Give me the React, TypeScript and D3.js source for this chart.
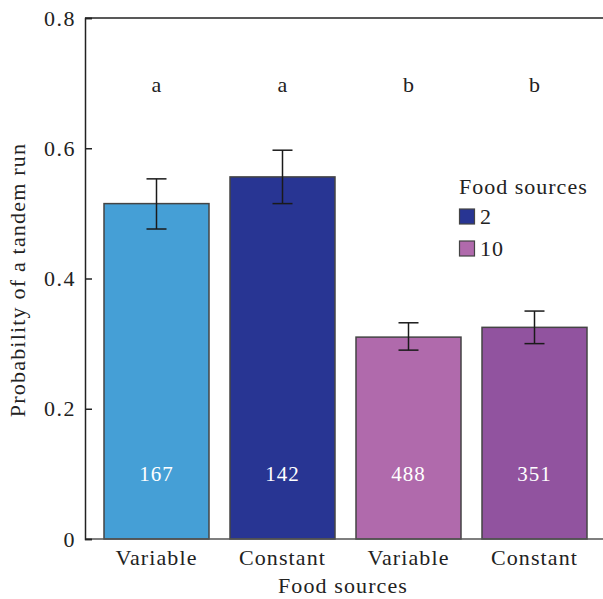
import React, { useEffect, useRef } from "react";
import * as d3 from "d3";

// values
const categories = ["Variable", "Constant", "Variable ", "Constant "];
const tickLabels = ["Variable", "Constant", "Variable", "Constant"];
const probs = [0.515, 0.556, 0.31, 0.325];
const errLow = [0.476, 0.515, 0.29, 0.3];
const errHigh = [0.553, 0.597, 0.332, 0.35];
const counts = ["167", "142", "488", "351"];
const letters = ["a", "a", "b", "b"];
const barColors = ["#459fd6", "#283593", "#b06aac", "#91539f"];
const legendItems = ["2", "10"];
const legendColors = ["#283593", "#b06aac"];
const yTicks = [0, 0.2, 0.4, 0.6, 0.8];

const FONT = "Liberation Serif, DejaVu Serif, serif";

const App = () => {
  const svgRef = useRef<SVGSVGElement>(null);

  useEffect(() => {
    const svg = d3.select(svgRef.current);
    svg.selectAll("*").remove();

    const left = 85;
    const right = 603;
    const top = 18;
    const bottom = 539;

    const y = d3.scaleLinear().domain([0, 0.8]).range([bottom, top]);
    const x = d3
      .scaleBand()
      .domain(categories)
      .range([93.5, 597.5])
      .paddingInner(1 / 6)
      .paddingOuter(1 / 12);

    // bars
    svg
      .append("g")
      .selectAll("rect")
      .data(probs)
      .join("rect")
      .attr("x", (d, i) => x(categories[i]))
      .attr("y", (d) => y(d))
      .attr("width", x.bandwidth())
      .attr("height", (d) => bottom - y(d))
      .attr("fill", (d, i) => barColors[i])
      .attr("stroke", "#444")
      .attr("stroke-width", 1.5);

    // error bars
    const eb = svg.append("g").attr("stroke", "#1a1a1a").attr("stroke-width", 1.5);
    probs.forEach((p, i) => {
      const cx = x(categories[i]) + x.bandwidth() / 2;
      eb.append("line").attr("x1", cx).attr("x2", cx).attr("y1", y(errLow[i])).attr("y2", y(errHigh[i]));
      eb.append("line").attr("x1", cx - 10).attr("x2", cx + 10).attr("y1", y(errLow[i])).attr("y2", y(errLow[i]));
      eb.append("line").attr("x1", cx - 10).attr("x2", cx + 10).attr("y1", y(errHigh[i])).attr("y2", y(errHigh[i]));
    });

    // counts inside bars
    svg
      .append("g")
      .selectAll("text")
      .data(counts)
      .join("text")
      .attr("x", (d, i) => x(categories[i]) + x.bandwidth() / 2)
      .attr("y", y(0.1))
      .attr("dy", "0.35em")
      .attr("text-anchor", "middle")
      .attr("fill", "#fff")
      .attr("font-family", FONT)
      .attr("font-size", 21)
      .attr("letter-spacing", 1)
      .text((d) => d);

    // significance letters
    svg
      .append("g")
      .selectAll("text")
      .data(letters)
      .join("text")
      .attr("x", (d, i) => x(categories[i]) + x.bandwidth() / 2)
      .attr("y", y(0.698))
      .attr("dy", "0.35em")
      .attr("text-anchor", "middle")
      .attr("fill", "#222")
      .attr("font-family", FONT)
      .attr("font-size", 22)
      .text((d) => d);

    // frame
    const frame = svg.append("g").attr("stroke", "#222").attr("stroke-width", 1.5).attr("fill", "none");
    frame.append("line").attr("x1", left).attr("x2", right).attr("y1", top).attr("y2", top);
    frame.append("line").attr("x1", left).attr("x2", right).attr("y1", bottom).attr("y2", bottom).attr("stroke", "#555");

    // y axis
    const yAxis = d3
      .axisLeft(y)
      .tickValues(yTicks)
      .tickSize(-7)
      .tickPadding(9)
      .tickFormat((d) => (d === 0 ? "0" : d3.format(".1f")(d)));
    const gy = svg.append("g").attr("transform", `translate(${left},0)`).call(yAxis);
    gy.selectAll("path, line").attr("stroke", "#222").attr("stroke-width", 1.5);
    gy.selectAll("text")
      .attr("font-family", FONT)
      .attr("font-size", 22)
      .attr("letter-spacing", 1.5)
      .attr("fill", "#222");

    // x tick labels
    svg
      .append("g")
      .selectAll("text")
      .data(tickLabels)
      .join("text")
      .attr("x", (d, i) => x(categories[i]) + x.bandwidth() / 2)
      .attr("y", 565)
      .attr("text-anchor", "middle")
      .attr("fill", "#222")
      .attr("font-family", FONT)
      .attr("font-size", 22)
      .attr("letter-spacing", 1.1)
      .text((d) => d);

    // axis titles
    svg
      .append("text")
      .attr("x", 343)
      .attr("y", 593)
      .attr("text-anchor", "middle")
      .attr("fill", "#222")
      .attr("font-family", FONT)
      .attr("font-size", 22)
      .attr("letter-spacing", 1.1)
      .text("Food sources");

    svg
      .append("text")
      .attr("transform", `translate(25,280) rotate(-90)`)
      .attr("text-anchor", "middle")
      .attr("fill", "#222")
      .attr("font-family", FONT)
      .attr("font-size", 22)
      .attr("letter-spacing", 1.2)
      .text("Probability of a tandem run");

    // legend
    const lg = svg.append("g").attr("transform", "translate(459,194)");
    lg.append("text")
      .attr("fill", "#222")
      .attr("font-family", FONT)
      .attr("font-size", 22)
      .attr("letter-spacing", 1)
      .text("Food sources");
    legendItems.forEach((lab, i) => {
      lg.append("rect")
        .attr("x", 0.5)
        .attr("y", 15 + i * 32)
        .attr("width", 15)
        .attr("height", 15)
        .attr("fill", legendColors[i])
        .attr("stroke", "#444")
        .attr("stroke-width", 1.2);
      lg.append("text")
        .attr("x", 21)
        .attr("y", 30 + i * 32)
        .attr("fill", "#222")
        .attr("font-family", FONT)
        .attr("font-size", 22)
        .attr("letter-spacing", 1)
        .text(lab);
    });
  }, []);

  return (
    <svg
      ref={svgRef}
      width={603}
      height={599}
      style={{ position: "absolute", left: 0, top: 0, display: "block" }}
    ></svg>
  );
};

export default App;
